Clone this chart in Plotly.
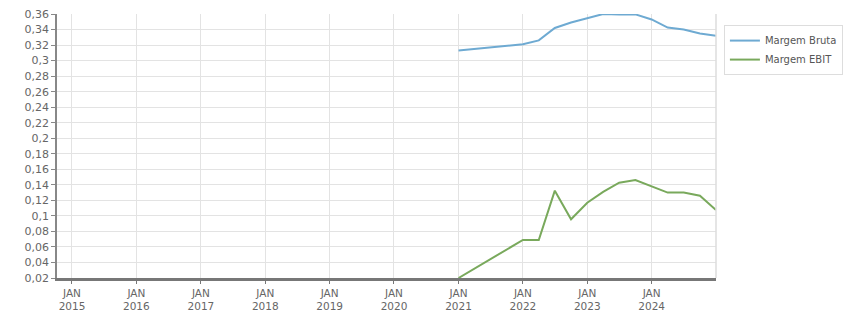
import plotly.graph_objects as go

dates = ["2021-01-01", "2021-04-01", "2021-07-01", "2021-10-01",
         "2022-01-01", "2022-04-01", "2022-07-01", "2022-10-01",
         "2023-01-01", "2023-04-01", "2023-07-01", "2023-10-01",
         "2024-01-01", "2024-04-01", "2024-07-01", "2024-10-01", "2024-12-31"]
margem_bruta = [0.313, 0.315, 0.317, 0.319,
                0.321, 0.326, 0.342, 0.349,
                0.355, 0.360, 0.3595, 0.3595,
                0.353, 0.3425, 0.340, 0.335, 0.332]
ebit_dates = ["2021-01-01", "2022-01-01", "2022-04-01", "2022-07-01", "2022-10-01",
              "2023-01-01", "2023-04-01", "2023-07-01", "2023-10-01",
              "2024-01-01", "2024-04-01", "2024-07-01", "2024-10-01", "2024-12-31"]
margem_ebit = [0.020, 0.069, 0.069, 0.1325, 0.0956,
               0.117, 0.131, 0.1427, 0.1462,
               0.1385, 0.130, 0.130, 0.126, 0.1076]

y_ticks = [0.02, 0.04, 0.06, 0.08, 0.1, 0.12, 0.14, 0.16, 0.18, 0.2,
           0.22, 0.24, 0.26, 0.28, 0.3, 0.32, 0.34, 0.36]
y_labels = ["0,02", "0,04", "0,06", "0,08", "0,1", "0,12", "0,14", "0,16", "0,18", "0,2",
            "0,22", "0,24", "0,26", "0,28", "0,3", "0,32", "0,34", "0,36"]
x_ticks = ["2015-01-01", "2016-01-01", "2017-01-01", "2018-01-01", "2019-01-01",
           "2020-01-01", "2021-01-01", "2022-01-01", "2023-01-01", "2024-01-01"]
x_labels = ["JAN<br>2015", "JAN<br>2016", "JAN<br>2017", "JAN<br>2018", "JAN<br>2019",
            "JAN<br>2020", "JAN<br>2021", "JAN<br>2022", "JAN<br>2023", "JAN<br>2024"]

fig = go.Figure()
fig.add_trace(go.Scatter(x=dates, y=margem_bruta, mode="lines", name="Margem Bruta",
                         line=dict(color="#6eaad2", width=2)))
fig.add_trace(go.Scatter(x=ebit_dates, y=margem_ebit, mode="lines", name="Margem EBIT",
                         line=dict(color="#79a95c", width=2)))

fig.update_layout(
    width=851, height=313,
    margin=dict(l=57, r=135, t=14, b=35, autoexpand=False),
    plot_bgcolor="white", paper_bgcolor="white",
    font=dict(family="DejaVu Sans", size=11, color="#666666"),
    legend=dict(x=1.012, y=0.958, xanchor="left", yanchor="top",
                bordercolor="#dddddd", borderwidth=1, bgcolor="white",
                font=dict(size=10, color="#555555"), itemwidth=30,
                tracegroupgap=0),
    shapes=[dict(type="line", xref="paper", yref="paper", x0=1, x1=1, y0=0, y1=1,
                 line=dict(color="#dddddd", width=1.5))],
)
fig.update_xaxes(
    range=["2014-10-08", "2024-12-31"],
    tickvals=x_ticks, ticktext=x_labels,
    showgrid=True, gridcolor="#e3e3e3", gridwidth=1,
    showline=True, linecolor="#777777", linewidth=3,
    ticks="outside", ticklen=3, tickcolor="#777777",
    tickfont=dict(size=10.5),
    zeroline=False, automargin=False,
)
fig.update_yaxes(
    range=[0.02, 0.36],
    tickvals=y_ticks, ticktext=y_labels,
    showgrid=True, gridcolor="#e3e3e3", gridwidth=1,
    showline=True, linecolor="#888888", linewidth=1.5,
    ticks="outside", ticklen=4, tickcolor="#888888",
    zeroline=False, automargin=False,
)

fig.write_html("out.html")
